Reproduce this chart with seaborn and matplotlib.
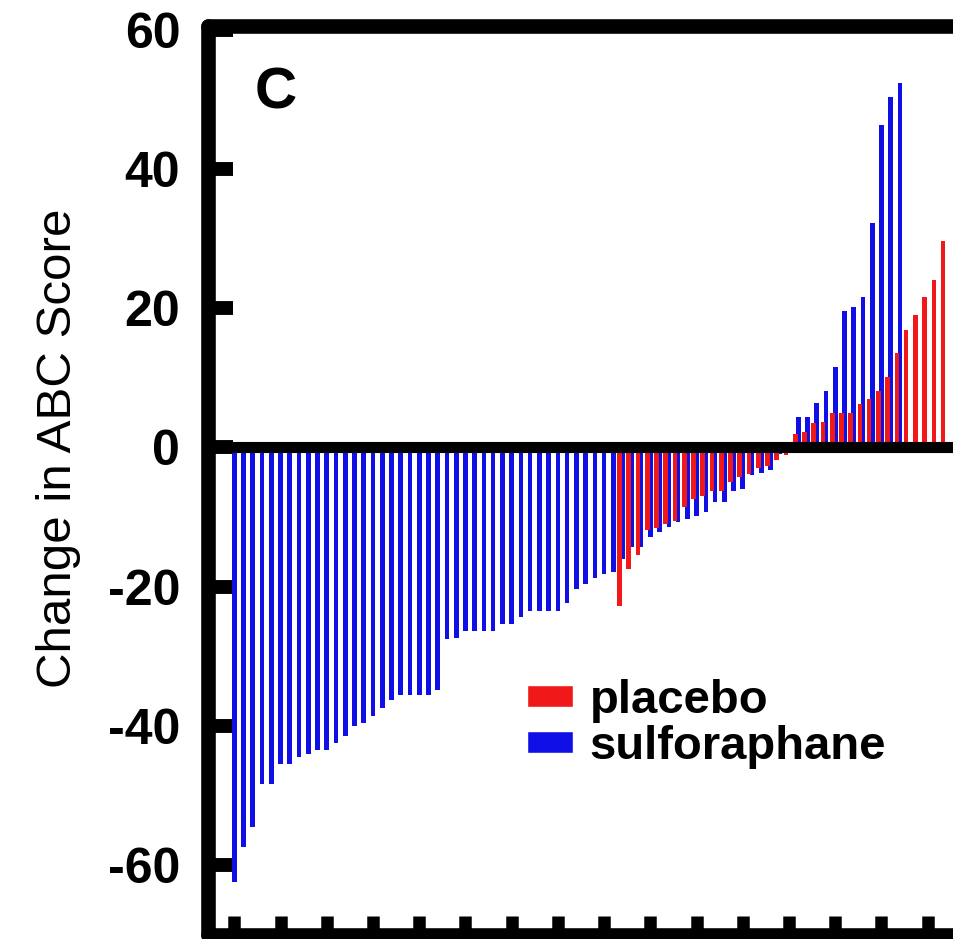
import numpy as np
import pandas as pd
import matplotlib
matplotlib.use('Agg')
import matplotlib.pyplot as plt
from matplotlib.patches import Patch
import seaborn as sns

# ---- data: change in ABC score, each group sorted (waterfall) ----
sulforaphane_change = [
    -62.4, -57.4, -54.5, -48.4, -48.4, -45.5, -45.5, -44.4, -44.0, -43.5,
    -43.5, -42.4, -41.5, -40.0, -39.6, -38.6, -37.5, -36.3, -35.5, -35.5,
    -35.5, -35.5, -34.9, -27.5, -27.4, -26.4, -26.4, -26.4, -26.4, -25.4,
    -25.4, -24.3, -23.5, -23.5, -23.5, -23.5, -22.3, -20.4, -19.6, -18.8,
    -18.2, -17.9, -16.0, -14.3, -14.3, -12.9, -12.2, -11.4, -10.7, -10.3,
    -9.9, -9.3, -7.9, -7.9, -6.2, -5.9, -4.0, -3.7, -3.3, -1.0,
    -0.5, 4.4, 4.4, 6.4, 8.1, 11.6, 19.6, 20.2, 21.6, 32.3,
    46.3, 50.4, 52.4,
]
placebo_change = [
    -22.8, -17.5, -15.4, -11.8, -11.5, -11.0, -10.5, -8.5, -7.4, -7.0,
    -6.2, -6.2, -5.0, -4.2, -3.8, -3.0, -2.6, -1.8, -1.1, 2.0,
    2.2, 3.5, 3.6, 4.9, 4.9, 5.0, 6.3, 6.9, 8.1, 10.1,
    13.6, 16.9, 19.0, 21.6, 24.1, 29.6,
]
placebo_first_rank = 42
y_ticks = [-60, -40, -20, 0, 20, 40, 60]
legend_labels = ['placebo', 'sulforaphane']
y_label = 'Change in ABC Score'
panel_label = 'C'

# ---- style ----
sns.set_style('ticks')
plt.rcParams['font.family'] = ['Liberation Sans', 'DejaVu Sans']
plt.rcParams['text.color'] = 'black'
plt.rcParams['axes.labelcolor'] = 'black'
plt.rcParams['xtick.color'] = 'black'
plt.rcParams['ytick.color'] = 'black'

BLUE = '#1010e6'
RED = '#f01818'
PLACEBO_SHIFT = 0.33
BAR_W = 0.5

sulf_df = pd.DataFrame({'rank': np.arange(len(sulforaphane_change)),
                        'change': sulforaphane_change})
plac_df = pd.DataFrame({'rank': np.arange(len(placebo_change)) + placebo_first_rank - PLACEBO_SHIFT,
                        'change': placebo_change})

fig = plt.figure(figsize=(9.54, 9.39), dpi=100)
ax = fig.add_axes([0.218, 0.0046, 0.7932, 0.9673])

sns.barplot(data=sulf_df, x='rank', y='change', native_scale=True, orient='x',
            color=BLUE, saturation=1, width=BAR_W, linewidth=0, errorbar=None,
            ax=ax, zorder=2)
sns.barplot(data=plac_df, x='rank', y='change', native_scale=True, orient='x',
            color=RED, saturation=1, width=BAR_W, linewidth=0, errorbar=None,
            ax=ax, zorder=2.2)

ax.axhline(0, color='black', lw=8, zorder=4)

ax.set_xlim(-2.85, 79)
ax.set_ylim(-70, 60.5)
ax.set_xticks(np.arange(0, 80, 5))
ax.set_xticklabels([])
ax.set_yticks(y_ticks)
ax.set_yticklabels([str(t) for t in y_ticks], fontweight='bold')
ax.tick_params(axis='y', direction='in', length=18, width=10, pad=20,
               labelsize=36, color='black', labelcolor='black')
ax.tick_params(axis='x', direction='in', length=14, width=9, color='black',
               labelbottom=False)

for s in ax.spines.values():
    s.set_visible(True)
    s.set_linewidth(10.5)
    s.set_color('black')
    s.set_capstyle('round')
    s.set_joinstyle('round')

ax.set_xlabel('')
ax.set_ylabel(y_label, fontsize=35.5, va='center', color='black')
ax.yaxis.set_label_coords(-0.198, 0.536)

ax.text(0.0898, 0.910, panel_label, transform=ax.transAxes, fontsize=42,
        fontweight='bold', ha='center', va='baseline', color='black')

handles = [Patch(facecolor=RED, label=legend_labels[0]),
           Patch(facecolor=BLUE, label=legend_labels[1])]
ax.legend(handles=handles, loc='upper left', bbox_to_anchor=(0.5524, 0.2769),
          bbox_transform=fig.transFigure, frameon=False,
          prop={'size': 34, 'weight': 'bold'}, handlelength=0.98,
          handleheight=0.34, handletextpad=0.35, labelspacing=0.05,
          borderpad=0, borderaxespad=0)

fig.savefig('out.png', dpi=100)
